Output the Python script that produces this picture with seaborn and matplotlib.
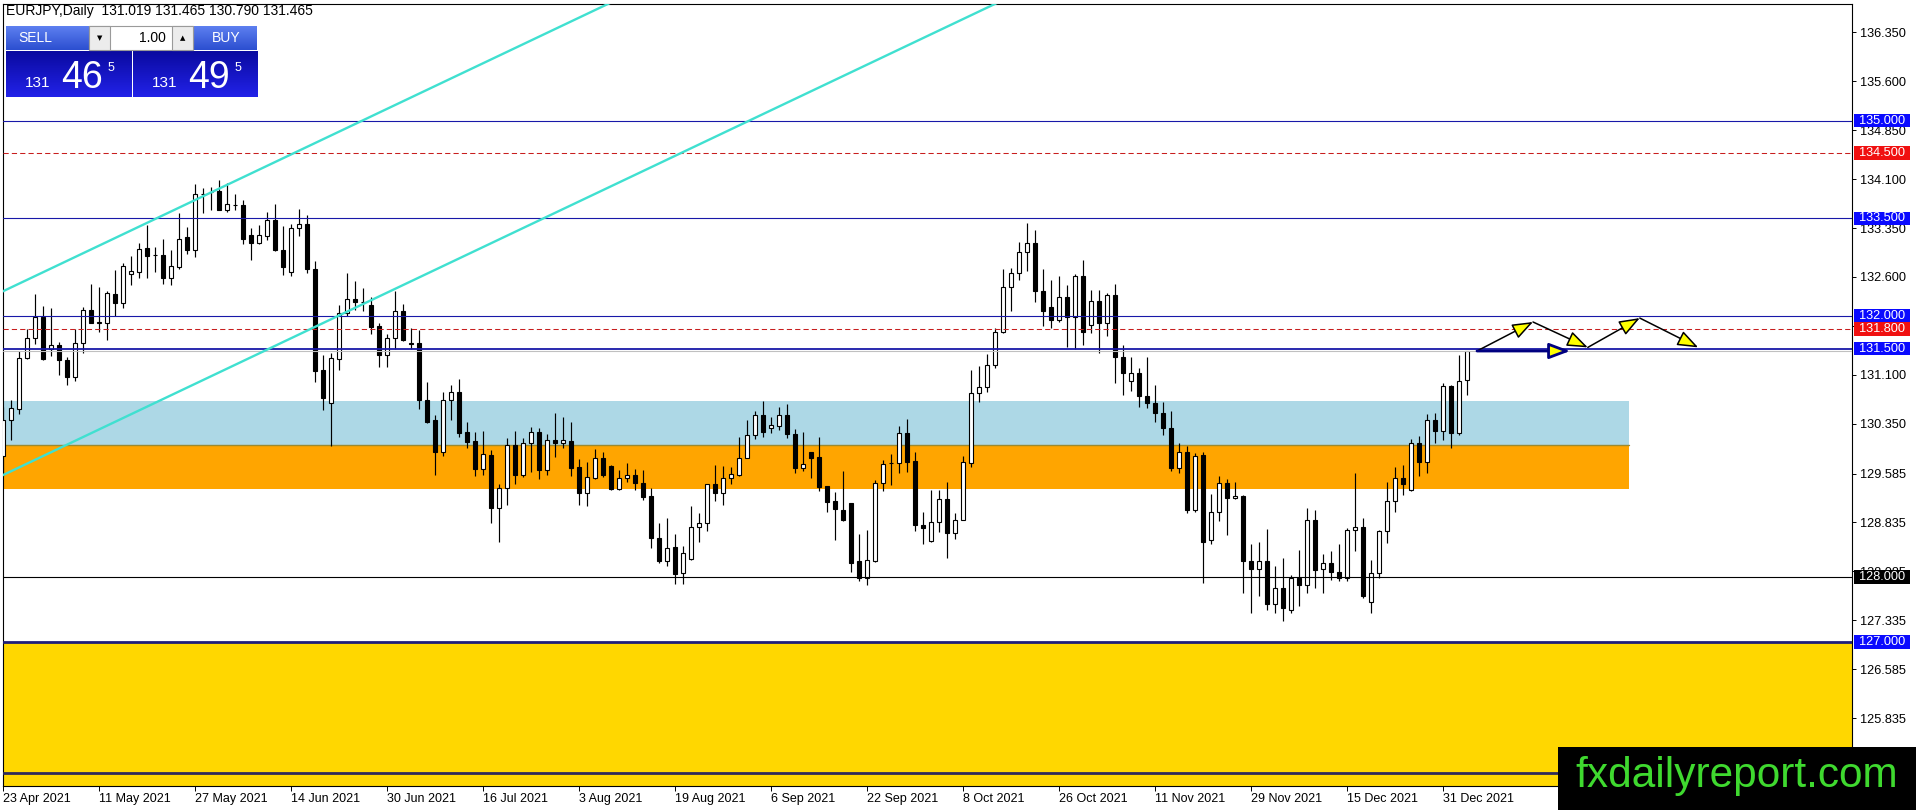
import numpy as np
import matplotlib
matplotlib.use("Agg")
import matplotlib.pyplot as plt
import seaborn as sns
from matplotlib.patches import Rectangle, FancyArrowPatch
from matplotlib.transforms import blended_transform_factory
from matplotlib.colors import LinearSegmentedColormap

# ---------------------------------------------------------------- data
SYMBOL = "EURJPY,Daily"
OPEN = [129.85, 130.40, 130.57, 131.36, 131.66, 131.99, 131.50, 131.55, 131.33, 131.06,
        131.58, 132.09, 131.90, 131.90, 132.34, 132.20, 132.64, 132.68, 133.04, 132.94,
        132.93, 132.59, 132.76, 133.21, 133.02, 133.87, 133.90, 133.92, 133.62, 133.70,
        133.70, 133.24, 133.12, 133.23, 133.48, 133.01, 132.68, 133.35, 133.42, 132.73,
        131.17, 130.66, 131.34, 132.05, 132.26, 132.22, 132.17, 131.85, 131.41, 131.67,
        132.08, 131.58, 131.58, 130.72, 130.41, 129.91, 130.71, 130.83, 130.23, 130.08,
        129.66, 129.87, 129.06, 129.36, 130.02, 129.56, 130.05, 130.23, 129.64, 130.10,
        130.06, 130.08, 129.68, 129.28, 129.52, 129.82, 129.70, 129.35, 129.51, 129.56,
        129.44, 129.24, 128.59, 128.25, 128.46, 128.06, 128.28, 128.77, 128.82, 129.42,
        129.29, 129.51, 129.56, 129.83, 130.18, 130.49, 130.29, 130.32, 130.49, 130.19,
        129.67, 129.91, 129.84, 129.40, 129.16, 129.03, 129.13, 128.24, 127.99, 128.25,
        129.44, 129.74, 129.74, 130.20, 129.78, 128.80, 128.55, 128.84, 129.19, 128.68,
        128.88, 129.74, 130.82, 130.91, 131.25, 131.75, 132.45, 132.66, 132.98, 133.12,
        132.39, 132.14, 131.94, 132.30, 131.98, 132.61, 131.87, 132.23, 131.89, 132.32,
        131.37, 131.01, 131.12, 130.78, 130.66, 130.52, 130.28, 129.67, 129.91, 129.02,
        129.87, 128.56, 129.00, 129.44, 129.21, 129.24, 128.25, 128.12, 128.24, 127.58,
        127.83, 127.50, 127.99, 127.88, 128.87, 128.12, 128.22, 128.07, 127.99, 128.72,
        128.76, 127.61, 128.06, 128.70, 129.16, 129.51, 129.33, 130.06, 129.77, 130.40,
        130.24, 130.93, 130.21, 131.019]
HIGH = [130.60, 130.72, 131.46, 131.80, 132.34, 132.16, 132.13, 131.60, 131.38, 131.80,
        132.14, 132.49, 132.44, 132.39, 132.71, 132.82, 132.92, 133.12, 133.40, 133.06,
        133.18, 133.01, 133.58, 133.37, 134.02, 133.96, 133.98, 134.09, 134.04, 133.88,
        133.78, 133.35, 133.40, 133.60, 133.72, 133.38, 133.41, 133.64, 133.55, 132.84,
        131.40, 131.44, 132.17, 132.66, 132.54, 132.43, 132.30, 131.89, 131.73, 132.39,
        132.19, 131.81, 131.79, 130.99, 130.48, 130.83, 130.94, 131.04, 130.37, 130.23,
        130.24, 129.95, 129.42, 130.13, 130.24, 130.13, 130.30, 130.28, 130.19, 130.51,
        130.45, 130.38, 129.81, 129.77, 129.96, 129.92, 129.72, 129.64, 129.74, 129.65,
        129.64, 129.37, 128.82, 128.90, 128.66, 128.47, 129.09, 128.98, 129.43, 129.72,
        129.70, 129.68, 130.14, 130.41, 130.55, 130.70, 130.45, 130.61, 130.65, 130.27,
        130.22, 129.92, 130.14, 129.40, 129.30, 129.62, 129.13, 128.66, 128.72, 129.48,
        129.79, 129.89, 130.32, 130.42, 129.91, 129.00, 129.33, 129.33, 129.45, 128.98,
        129.86, 131.17, 131.23, 131.42, 131.81, 132.72, 132.74, 133.13, 133.43, 133.32,
        132.73, 132.55, 132.62, 132.48, 132.65, 132.86, 132.40, 132.40, 132.35, 132.50,
        131.55, 131.37, 131.20, 131.37, 130.94, 130.69, 130.55, 130.05, 130.01, 129.90,
        129.91, 129.27, 129.55, 129.50, 129.46, 129.25, 128.51, 128.54, 128.73, 128.17,
        128.29, 128.03, 128.41, 129.05, 129.02, 128.35, 128.40, 128.51, 128.75, 129.59,
        128.91, 128.26, 128.72, 129.45, 129.69, 129.72, 130.11, 130.16, 130.50, 130.52,
        130.98, 130.94, 131.40, 131.465]
LOW = [129.55, 130.10, 130.50, 131.34, 131.57, 131.33, 131.39, 131.10, 130.94, 131.01,
       131.44, 131.89, 131.75, 131.63, 132.00, 132.13, 132.47, 132.59, 132.59, 132.67,
       132.50, 132.48, 132.73, 132.95, 132.90, 133.58, 133.63, 133.62, 133.60, 133.63,
       133.10, 132.86, 133.10, 133.17, 133.00, 132.63, 132.61, 133.23, 132.66, 130.99,
       130.56, 130.01, 131.17, 132.00, 132.09, 132.08, 131.73, 131.22, 131.22, 131.49,
       131.62, 131.49, 130.57, 130.36, 129.56, 129.86, 130.41, 130.15, 129.97, 129.55,
       129.56, 128.83, 128.54, 129.10, 129.43, 129.53, 129.61, 129.50, 129.56, 129.84,
       129.97, 129.54, 129.11, 129.08, 129.50, 129.53, 129.33, 129.33, 129.46, 129.33,
       129.18, 128.44, 128.21, 128.16, 127.89, 127.89, 128.26, 128.53, 128.71, 129.17,
       129.10, 129.43, 129.54, 129.82, 130.11, 130.14, 130.20, 130.25, 130.13, 129.60,
       129.63, 129.52, 129.31, 129.00, 128.56, 128.86, 128.08, 127.94, 127.87, 128.23,
       129.32, 129.41, 129.60, 129.61, 128.71, 128.50, 128.54, 128.69, 128.29, 128.58,
       128.87, 129.68, 130.69, 130.83, 131.20, 131.74, 132.08, 132.56, 132.69, 132.21,
       131.85, 131.81, 131.91, 131.52, 131.50, 131.55, 131.74, 131.43, 131.69, 130.97,
       130.79, 130.85, 130.61, 130.59, 130.38, 130.18, 129.63, 129.60, 128.98, 129.00,
       127.91, 128.51, 128.85, 128.64, 129.19, 127.75, 127.44, 127.70, 127.50, 127.45,
       127.33, 127.45, 127.55, 127.76, 127.83, 127.75, 127.96, 127.93, 127.93, 128.39,
       127.68, 127.45, 127.99, 128.52, 128.99, 129.26, 129.31, 129.55, 129.59, 130.06,
       130.10, 129.97, 130.17, 130.790]
CLOSE = [130.40, 130.59, 131.36, 131.66, 131.98, 131.34, 131.55, 131.32, 131.06, 131.58,
         132.10, 131.90, 131.91, 132.35, 132.20, 132.77, 132.69, 133.03, 132.92, 132.93,
         132.59, 132.77, 133.19, 133.01, 133.87, 133.88, 133.91, 133.62, 133.72, 133.70,
         133.18, 133.12, 133.24, 133.48, 133.01, 132.76, 133.35, 133.42, 132.73, 131.16,
         130.75, 131.35, 132.05, 132.26, 132.22, 132.21, 131.84, 131.41, 131.67, 132.08,
         131.63, 131.57, 130.72, 130.38, 129.91, 130.71, 130.83, 130.21, 130.07, 129.66,
         129.89, 129.06, 129.36, 130.02, 129.56, 130.05, 130.22, 129.64, 130.10, 130.06,
         130.10, 129.67, 129.28, 129.53, 129.82, 129.56, 129.35, 129.51, 129.56, 129.44,
         129.22, 128.59, 128.24, 128.45, 128.05, 128.36, 128.77, 128.82, 129.42, 129.29,
         129.51, 129.58, 129.83, 130.18, 130.49, 130.23, 130.33, 130.49, 130.19, 129.67,
         129.73, 129.83, 129.38, 129.15, 129.04, 128.87, 128.22, 127.99, 128.26, 129.44,
         129.73, 129.74, 130.20, 129.77, 128.79, 128.75, 128.84, 129.19, 128.68, 128.88,
         129.76, 130.82, 130.91, 131.25, 131.75, 132.45, 132.66, 132.98, 133.12, 132.38,
         132.08, 131.94, 132.30, 131.98, 132.61, 131.75, 132.23, 131.89, 132.32, 131.37,
         131.12, 131.12, 130.78, 130.66, 130.52, 130.28, 129.67, 129.91, 129.02, 129.86,
         128.54, 129.00, 129.44, 129.21, 129.24, 128.24, 128.12, 128.24, 127.58, 127.83,
         127.52, 127.99, 127.88, 128.87, 128.10, 128.22, 128.07, 127.99, 128.72, 128.76,
         127.71, 128.06, 128.70, 129.16, 129.51, 129.42, 130.06, 129.77, 130.40, 130.24,
         130.93, 130.21, 131.01, 131.465]

DATE_BARS = [0, 12, 24, 36, 48, 60, 72, 84, 96, 108, 120, 132, 144, 156, 168, 180]
DATE_LABELS = ["23 Apr 2021", "11 May 2021", "27 May 2021", "14 Jun 2021", "30 Jun 2021",
               "16 Jul 2021", "3 Aug 2021", "19 Aug 2021", "6 Sep 2021", "22 Sep 2021",
               "8 Oct 2021", "26 Oct 2021", "11 Nov 2021", "29 Nov 2021", "15 Dec 2021",
               "31 Dec 2021"]
PRICE_TICKS = [136.350, 135.600, 134.850, 134.100, 133.350, 132.600, 131.850, 131.100,
               130.350, 129.585, 128.835, 128.085, 127.335, 126.585, 125.835]

BLUE_LEVELS = [135.000, 133.500, 132.000, 131.500]
RED_LEVELS = [134.500, 131.800]
SUPPORT_LEVEL = 128.000
YELLOW_TOP = 127.000
YELLOW_LINE = 125.000
BID = 131.465
ASK = 131.495
LOT = 1.00

ZONE_BLUE = (130.03, 130.70)
ZONE_ORANGE = (129.35, 130.03)
ZONE_END_BAR = 203.3

TREND_UPPER = [(0, 132.381), (100, 138.209)]
TREND_LOWER = [(0, 129.562), (140, 137.721)]

ZIGZAG_BARS = [184.25, 191.25, 198.1, 204.6, 211.9]
ZIGZAG_PRICES = [131.465, 131.91, 131.52, 131.97, 131.52]
FLAT_ARROW_BARS = [184.25, 195.9]
FLAT_ARROW_PRICES = [131.465, 131.465]

LABEL_BOXES = [(135.000, "#0a0aff"), (134.500, "#f01010"), (133.500, "#0a0aff"),
               (132.000, "#0a0aff"), (131.800, "#f01010"), (131.500, "#0a0aff"),
               (128.000, "#000000"), (127.000, "#0a0aff")]

# ---------------------------------------------------------------- style
sns.set_theme(style="white")
plt.rcParams["font.family"] = ["Liberation Sans", "DejaVu Sans"]

W, H = 1916, 810
fig = plt.figure(figsize=(W / 100, H / 100), dpi=100)
fig.patch.set_facecolor("white")


def fx(px):
    return px / W


def fy(py):
    return 1 - py / H


AX_L, AX_R, AX_T, AX_B = 3, 1852, 4, 786
PX_PER_BAR = 8.0
ax = fig.add_axes([fx(AX_L), fy(AX_B), (AX_R - AX_L) / W, (AX_B - AX_T) / H])
ax.set_facecolor("white")

# zones (background)
span_bars = (AX_R - AX_L) / PX_PER_BAR
ax.axhspan(ZONE_BLUE[0], ZONE_BLUE[1], xmin=0, xmax=ZONE_END_BAR / span_bars,
           facecolor="#add8e6", edgecolor="none", zorder=0.5)
ax.axhspan(ZONE_ORANGE[0], ZONE_ORANGE[1], xmin=0, xmax=ZONE_END_BAR / span_bars,
           facecolor="#ffa500", edgecolor="none", zorder=0.5)
ax.plot([-5, ZONE_END_BAR], [ZONE_BLUE[0], ZONE_BLUE[0]], color="#9c8a30", lw=1.0, zorder=0.6)
ax.axhspan(120.0, YELLOW_TOP, facecolor="#ffd700", edgecolor="none", zorder=0.5)

# candles
x = np.arange(len(OPEN))
o = np.array(OPEN)
h = np.array(HIGH)
l = np.array(LOW)
c = np.array(CLOSE)
ax.vlines(x, l, h, color="black", lw=0.85, zorder=3)
up = c >= o
bottom = np.minimum(o, c)
height = np.maximum(np.abs(c - o), 0.004)
ax.bar(x, height, bottom=bottom, width=0.55, color=np.where(up, "white", "black"),
       edgecolor="black", linewidth=0.8, zorder=3.5)

# horizontal levels
for lv in BLUE_LEVELS:
    ax.axhline(lv, color="#1818a8", lw=1.3 if lv == 131.5 else 0.8, zorder=5)
for lv in RED_LEVELS:
    ax.axhline(lv, color="#c81e1e", lw=0.75, ls=(0, (5, 3)), zorder=5)
ax.axhline(BID, color="#c0c0c0", lw=0.8, zorder=4.9)
ax.axhline(SUPPORT_LEVEL, color="black", lw=0.8, zorder=5)
ax.axhline(YELLOW_TOP, color="#1e1e7a", lw=2.0, zorder=5)
ax.axhline(YELLOW_LINE, color="#2e2a5a", lw=2.0, zorder=5)

# trend channel
for (x0, y0), (x1, y1) in (TREND_UPPER, TREND_LOWER):
    slope = (y1 - y0) / (x1 - x0)
    tx = np.array([-2.0, x1])
    ty = y0 + slope * (tx - x0)
    sns.lineplot(x=tx, y=ty, ax=ax, color="#40e0d0", lw=1.7, zorder=6, legend=False)

# projected path arrows
for i in range(len(ZIGZAG_BARS) - 1):
    ax.add_patch(FancyArrowPatch((ZIGZAG_BARS[i], ZIGZAG_PRICES[i]),
                                 (ZIGZAG_BARS[i + 1], ZIGZAG_PRICES[i + 1]),
                                 arrowstyle="-|>,head_length=0.85,head_width=0.32",
                                 mutation_scale=15, fc="#ffff00", ec="black", lw=1.1,
                                 shrinkA=0, shrinkB=0, zorder=7))
ax.add_patch(FancyArrowPatch((FLAT_ARROW_BARS[0], FLAT_ARROW_PRICES[0]),
                             (FLAT_ARROW_BARS[1], FLAT_ARROW_PRICES[1]),
                             arrowstyle="-|>,head_length=0.85,head_width=0.32",
                             mutation_scale=15, fc="#ffff00", ec="#000080", lw=2.0,
                             shrinkA=0, shrinkB=0, zorder=7))

ax.set_xlim(0, span_bars)
ax.set_ylim(124.793, 136.787)
ax.set_xlabel("")
ax.set_ylabel("")

# axes / ticks
for sp in ax.spines.values():
    sp.set_color("black")
    sp.set_linewidth(0.8)
ax.yaxis.tick_right()
ax.set_yticks(PRICE_TICKS)
ax.set_yticklabels([f"{v:.3f}" for v in PRICE_TICKS])
ax.tick_params(axis="y", which="both", right=True, left=False, direction="out",
               length=3, width=0.7, pad=2.5, labelsize=9.2, colors="black")
ax.set_xticks(DATE_BARS)
ax.set_xticklabels(DATE_LABELS, ha="left")
ax.tick_params(axis="x", which="both", bottom=True, top=False, direction="out",
               length=3.5, width=0.7, pad=1.5, labelsize=9, colors="black")
ax.grid(False)

# level price boxes on the right scale
trans = blended_transform_factory(ax.transAxes, ax.transData)
axw = AX_R - AX_L
ppu = (AX_B - AX_T) / (136.787 - 124.793)
for lv, col in LABEL_BOXES:
    bh = 13.3 / ppu
    ax.add_patch(Rectangle(((1854 - AX_L) / axw, lv - bh / 2), 56 / axw, bh, transform=trans,
                           facecolor=col, edgecolor="none", clip_on=False, zorder=10))
    ax.text((1859 - AX_L) / axw, lv, f"{lv:.3f}", transform=trans, color="white", fontsize=9.2,
            va="center", ha="left", clip_on=False, zorder=11)

# header
fig.text(fx(6), fy(11), f"{SYMBOL}  {OPEN[-1]:.3f} {HIGH[-1]:.3f} {LOW[-1]:.3f} {CLOSE[-1]:.3f}",
         fontsize=10, color="black", va="center", ha="left")


# one-click trading panel
def grad_box(x0, y0, x1, y1, top, bot):
    a = fig.add_axes([fx(x0), fy(y1), (x1 - x0) / W, (y1 - y0) / H])
    cm = LinearSegmentedColormap.from_list("g", [top, bot])
    a.imshow(np.linspace(0, 1, 64).reshape(-1, 1), aspect="auto", cmap=cm,
             extent=(0, 1, 0, 1), origin="upper")
    a.set_axis_off()
    return a


def frect(x0, y0, x1, y1, **kw):
    fig.add_artist(Rectangle((fx(x0), fy(y1)), (x1 - x0) / W, (y1 - y0) / H,
                             transform=fig.transFigure, **kw))


grad_box(6, 26, 89, 50, "#5d7ff0", "#2c4fd0")
grad_box(193, 26, 257, 50, "#5d7ff0", "#2c4fd0")
frect(89, 26, 193, 50, facecolor="white", edgecolor="#9a9a9a", lw=0.8)
frect(89, 26, 110, 50, facecolor="#ececec", edgecolor="#9a9a9a", lw=0.8)
frect(172, 26, 193, 50, facecolor="#ececec", edgecolor="#9a9a9a", lw=0.8)
fig.text(fx(35), fy(38), "SELL", color="white", fontsize=10, ha="center", va="center")
fig.text(fx(226), fy(38), "BUY", color="white", fontsize=10, ha="center", va="center")
fig.text(fx(99.5), fy(38), "\u25BC", color="black", fontsize=5, ha="center", va="center",
         family=["DejaVu Sans"])
fig.text(fx(182.5), fy(38), "\u25B2", color="black", fontsize=5, ha="center", va="center",
         family=["DejaVu Sans"])
fig.text(fx(166), fy(38), f"{LOT:.2f}", color="black", fontsize=10, ha="right", va="center")

for bx, price in ((6, BID), (133, ASK)):
    grad_box(bx, 51, bx + 125, 97, "#0a0aa0", "#2222e8")
    s = f"{price:.3f}"
    big = s.split(".")[1][:2]
    last = s[-1]
    fig.text(fx(bx + 19), fy(87), s.split(".")[0], color="white", fontsize=11,
             ha="left", va="baseline")
    fig.text(fx(bx + 55), fy(88), big, color="white", fontsize=27, ha="left", va="baseline")
    fig.text(fx(bx + 102), fy(71), last, color="white", fontsize=9, ha="left", va="baseline")

# watermark logo
frect(1558, 747, 1916, 810, facecolor="black", edgecolor="none", zorder=20)
fig.text(fx(1575), fy(787), "fxdailyreport.com", color="#3fd92f", fontsize=30.5,
         ha="left", va="baseline", zorder=21)

fig.savefig("out.png", dpi=100, facecolor="white")
